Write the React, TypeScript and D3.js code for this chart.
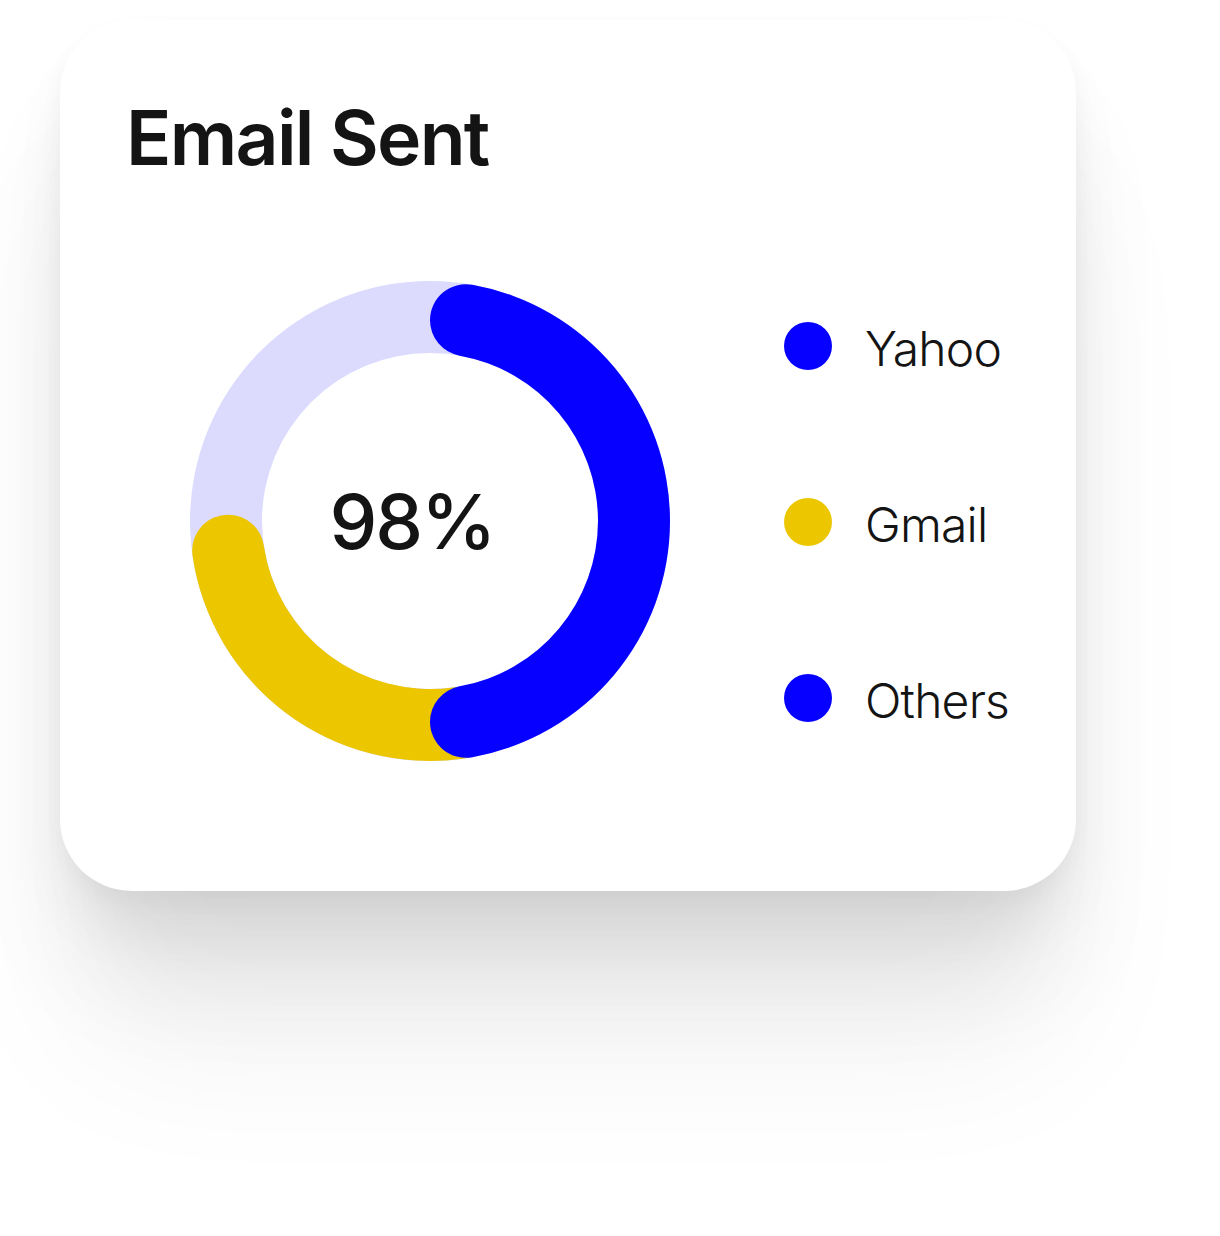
import React, { useEffect } from 'react'
import * as d3 from 'd3'

// segments of the ring, in percent of the full circle (start, end)
const segmentNames = ['Gmail', 'Yahoo']
const segmentStarts = [45, 0]
const segmentEnds = [75.5, 50]
const segmentColors = ['#ECC700', '#0500FF']

const legendLabels = ['Yahoo', 'Gmail', 'Others']
const legendColors = ['#0500FF', '#ECC700', '#0500FF']

const centerLabel = '98%'
const title = 'Email Sent'

const W = 1220
const H = 1236
const cx = 430
const cy = 521
const rOuter = 240
const rInner = 168

// stacked soft shadow under the card: [dy, blur, opacity]
const shadowLayers = [
  [10, 12, 0.03],
  [40, 30, 0.05],
  [90, 55, 0.065],
  [160, 80, 0.05],
]

const App = () => {
  useEffect(() => {
    document.body.style.margin = '0'
  }, [])

  const angle = d3.scaleLinear().domain([0, 100]).range([0, 2 * Math.PI])

  const arc = d3.arc<any>()
    .innerRadius(rInner)
    .outerRadius(rOuter)
    .cornerRadius((rOuter - rInner) / 2)

  const track = d3.arc<any>().innerRadius(rInner).outerRadius(rOuter)

  const legendY = d3.scalePoint<string>()
    .domain(legendLabels)
    .range([346, 698])

  const font = 'Inter, "Noto Sans", sans-serif'

  return (
    <svg width={W} height={H} style={{ display: 'block' }}>
      <defs>
        {shadowLayers.map((s, i) => (
          <filter key={i} id={`sh${i}`} x="-50%" y="-50%" width="200%" height="200%">
            <feGaussianBlur stdDeviation={s[1]} />
          </filter>
        ))}
      </defs>
      {shadowLayers.map((s, i) => (
        <rect
          key={i}
          x={60 + i * 6}
          y={20 + s[0]}
          width={1016 - i * 12}
          height={871}
          rx={72}
          fill="#000"
          opacity={s[2]}
          filter={`url(#sh${i})`}
        />
      ))}
      <rect x={60} y={20} width={1016} height={871} rx={72} fill="#fff" />
      <text x={126} y={165} fontFamily={font} fontSize={75} fontWeight={600} letterSpacing={-1.7} fill="#141414">
        {title}
      </text>
      <g transform={`translate(${cx},${cy})`}>
        <path
          d={track({ startAngle: 0, endAngle: 2 * Math.PI }) || ''}
          fill="#DCDBFE"
        />
        {segmentNames.map((name, i) => (
          <path
            key={name}
            d={arc({ startAngle: angle(segmentStarts[i]), endAngle: angle(segmentEnds[i]) }) || ''}
            fill={segmentColors[i]}
          />
        ))}
        <text x={-18} y={28} textAnchor="middle" fontFamily={font} fontSize={76} fontWeight={500} letterSpacing={-2} fill="#141414">
          {centerLabel}
        </text>
      </g>
      {legendLabels.map((label, i) => (
        <g key={label} transform={`translate(0,${legendY(label)})`}>
          <circle cx={808} cy={0} r={24} fill={legendColors[i]} />
          <text x={865} y={20} fontFamily={font} fontSize={48} fontWeight={300} letterSpacing={-0.8} fill="#141414">
            {label}
          </text>
        </g>
      ))}
    </svg>
  )
}

export default App
